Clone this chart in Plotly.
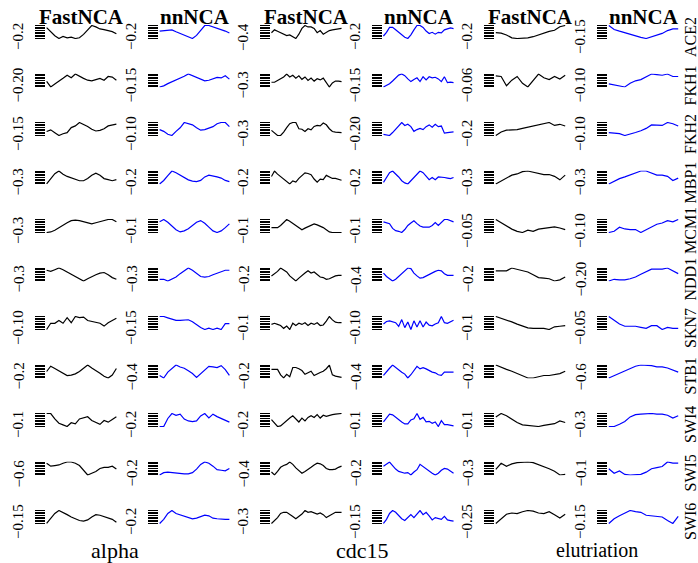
import plotly.graph_objects as go

# ---------------- data (relative expression profiles) ----------------
genes = ["ACE2", "FKH1", "FKH2", "MBP1", "MCM1", "NDD1", "SKN7", "STB1", "SWI4", "SWI5", "SWI6"]
datasets = ["alpha", "cdc15", "elutriation"]
methods = ["FastNCA", "nnNCA"]

# one tick label per panel (row = gene, column = dataset x method)
tick_labels = [
    ["−0.2", "−0.2", "−0.4", "−0.2", "−0.2", "−0.15"],
    ["−0.20", "−0.15", "−0.3", "−0.15", "−0.06", "−0.10"],
    ["−0.15", "−0.10", "−0.3", "−0.20", "−0.2", "−0.10"],
    ["−0.3", "−0.2", "−0.2", "−0.2", "−0.3", "−0.3"],
    ["−0.3", "−0.1", "−0.1", "−0.1", "−0.05", "−0.10"],
    ["−0.3", "−0.3", "−0.2", "−0.4", "−0.2", "−0.20"],
    ["−0.10", "−0.15", "−0.1", "−0.10", "−0.1", "−0.05"],
    ["−0.2", "−0.4", "−0.2", "−0.4", "−0.2", "−0.6"],
    ["−0.1", "−0.2", "−0.2", "−0.1", "−0.1", "−0.3"],
    ["−0.6", "−0.2", "−0.4", "−0.2", "−0.3", "−0.1"],
    ["−0.15", "−0.2", "−0.3", "−0.15", "−0.25", "−0.15"],
]

ace2 = [
    [11, 8, 5, 3, 4.5, 3.5, 4, 3, 3.5, 6, 9, 12.5, 11.5, 10, 9.5, 9, 8, 6.5],
    [7.5, 8, 8, 8.5, 7, 5.5, 4, 3, 1.5, 4, 8, 12, 12, 11, 10, 9, 7.5, 6],
    [7, 9, 8, 7, 6, 5, 5.5, 4, 3, 6, 10, 12, 11, 11, 10, 7, 8.5, 6, 7.5, 8.5, 9, 9.5, 10, 10],
    [3, 6, 10, 10, 8, 6, 4, 2, 1, 4, 8, 11.5, 11.5, 10, 7, 5, 6, 4.5, 6, 5.5, 8, 9, 9.5, 9],
    [6, 5.5, 4, 1.5, 1, 1, 1.5, 2.5, 4, 6, 7, 8, 11, 12],
    [12.5, 9, 7.5, 6, 5, 3.5, 2, 1, 2.5, 4, 5.5, 8, 9.5, 9.5],
]
fkh1 = [
    [7, 2.5, 5, 7, 9.5, 12, 10, 13, 11, 9.5, 8, 7.5, 8.5, 9.5, 8, 11, 10.5, 8],
    [1, 2, 4, 5.5, 7, 9, 10.5, 12.5, 11, 10, 8, 6.5, 7, 8.5, 9.5, 9, 11, 8],
    [5.5, 5.5, 7, 8.5, 10, 12.5, 10, 11.5, 9, 11, 8, 10, 7, 9, 6.5, 8.5, 7.5, 9, 5, 1.5, 5, 6.5, 6.5, 6],
    [0.5, 2, 3.5, 6, 9, 11.5, 12.5, 11, 8, 5.5, 7.5, 9, 5.5, 10, 7, 10, 9, 9.5, 8, 5.5, 10, 4.5, 5, 4.5],
    [10.5, 10, 2.5, 7, 10, 4.5, 1.5, 7, 12, 9, 7.5, 10, 8, 11],
    [4, 3, 2.5, 1.5, 4.5, 6.5, 7.5, 9.5, 12, 11.5, 11, 12, 10, 10],
]
fkh2 = [
    [4.5, 6, 3.5, 1, 2.5, 3.5, 8, 9.5, 12.5, 11, 9, 6.5, 5, 5.5, 7, 9.5, 10.5, 11],
    [6, 4.5, 2, 1, 4.5, 7.5, 12, 11, 10, 7.5, 5.5, 6, 7, 8.5, 11, 12, 12, 8.5],
    [5.5, 3, 1, 1, 4, 8, 11.5, 12.5, 12.5, 7, 6.5, 4.5, 7, 6, 9, 10, 9.5, 12, 10.5, 7, 4.5, 4, 4, 3.5],
    [2, 1.5, 1, 3.5, 6.5, 9.5, 12, 9.5, 10.5, 8.5, 4.5, 6, 7, 6, 8.5, 10, 8, 10.5, 8.5, 9, 3, 3.5, 3.5, 4],
    [1, 4, 5.5, 5.5, 6, 7, 8, 9, 10, 11, 12, 9.5, 10.5, 9],
    [3.5, 3, 2.5, 1, 2, 3.5, 5, 7, 10, 10, 9.5, 12, 11, 9],
]
mbp1 = [
    [0.5, 5, 10, 12.5, 9.5, 7.5, 6, 4.5, 3.5, 3.5, 5.5, 8.5, 10.5, 8.5, 5.5, 4.5, 3.5, 4.5],
    [0.5, 3.5, 7.5, 11.5, 10, 8, 6, 4, 3, 2.5, 3.5, 6.5, 8, 7.5, 6.5, 5.5, 3.5, 2.5],
    [7, 11.5, 9, 7, 5, 3, 1, 3.5, 2.5, 5.5, 8, 10, 9.5, 8.5, 5, 2.5, 5, 4.5, 8, 7, 5.5, 5.5, 5, 4],
    [2, 7, 11, 12.5, 10, 7, 3.5, 1.5, 0.5, 3.5, 7, 10, 12.5, 11, 8, 4.5, 6.5, 4.5, 7, 7, 6.5, 6, 5.5, 6.5],
    [0.5, 3, 6, 8, 9, 11, 11.5, 10.5, 9, 8.5, 8.5, 7, 4, 8],
    [0.5, 3, 5, 6.5, 8, 10, 11.5, 11.5, 10, 8, 8, 7, 3.5, 5.5],
]
mcm1 = [
    [0.5, 1, 2.5, 5, 7.5, 9.5, 11.5, 12, 11.5, 10.5, 9.5, 8.5, 9.5, 10.5, 11.5, 12.5, 12.5, 10.5],
    [10.5, 12.5, 10, 6.5, 3, 1, 2, 4, 7, 10, 11.5, 9, 5.5, 2, 0.5, 2, 5, 8.5],
    [5, 5, 5, 7, 9.5, 12.5, 11, 9, 7, 4.5, 3, 4.5, 6, 7.5, 8.5, 7.5, 6.5, 5, 3, 1, 0.5, 0.5, 0.5, 0.5],
    [10.5, 10, 9, 5, 3, 2.5, 1.5, 4, 7.5, 9.5, 11.5, 9, 7, 6, 6, 6, 7.5, 10, 7.5, 10, 12.5, 12.5, 11.5, 10.5],
    [13, 10, 7.5, 4.5, 2.5, 1.5, 3.5, 2.5, 4.5, 5, 6, 6.5, 5.5, 4],
    [1.5, 2.5, 6, 4.5, 4, 4, 1.5, 4, 6.5, 8.5, 9.5, 11.5, 10.5, 12.5],
]
ndd1 = [
    [10, 9, 10.5, 12, 10.5, 8.5, 6, 4, 2.5, 0.5, 2.5, 4.5, 6, 7.5, 8, 6, 3.5, 2],
    [2, 2, 0.5, 2, 4, 7, 9.5, 12, 10, 7, 4.5, 4, 4.5, 6, 7.5, 9, 10, 10],
    [5, 7, 9, 12, 10.5, 8.5, 5, 3, 0.5, 3, 5.5, 7.5, 9.5, 7.5, 8.5, 6, 4, 3.5, 2, 2.5, 4, 5, 5.5, 5.5],
    [7.5, 4.5, 2.5, 0.5, 2, 4.5, 7.5, 10, 12, 11.5, 7.5, 5, 3, 3.5, 5, 6.5, 8, 9, 10, 9.5, 7, 5.5, 5.5, 5.5],
    [9.5, 9.5, 9.5, 12, 11, 10, 8.5, 6, 3.5, 3, 2.5, 0.5, 1.5, 4],
    [0.5, 2, 1.5, 1.5, 2.5, 4, 6.5, 9, 11, 11, 11, 12, 9.5, 7],
]
skn7 = [
    [0.5, 6, 6, 8.5, 6, 11, 6.5, 12, 11, 11.5, 8.5, 7.5, 6.5, 6, 3.5, 6.5, 8.5, 10.5],
    [11.5, 11.5, 10.5, 9.5, 8.5, 8.5, 9, 9, 7.5, 5, 3, 1.5, 2.5, 1.5, 2.5, 1.5, 6, 6],
    [5, 6, 5, 4, 1.5, 3.5, 0.5, 6, 4, 6, 5, 6.5, 4, 6, 5, 6.5, 4, 4.5, 8, 12, 9, 7, 6.5, 6.5],
    [6, 8, 8.5, 8, 7, 4, 9.5, 3, 7.5, 1.5, 8.5, 3.5, 8.5, 3.5, 7.5, 5, 4.5, 6, 7, 12, 7, 6.5, 7.5, 9],
    [12.5, 11, 9.5, 7.5, 5.5, 3.5, 2, 1.5, 1.5, 1.5, 0.5, 3, 3.5, 4],
    [12.5, 9, 5.5, 3.5, 3.5, 3.5, 2.5, 1.5, 4, 4, 0.5, 2.5, 1.5, 1.5],
]
stb1 = [
    [6, 10.5, 8.5, 6.5, 4.5, 2.5, 3, 4, 6, 8.5, 11.5, 9, 7, 4.5, 2, 0.5, 3, 8.5],
    [3.5, 1.5, 6, 9, 11.5, 10, 9, 7, 5, 2, 5, 8, 10.5, 10, 9.5, 11, 8, 3.5],
    [8.5, 8.5, 8.5, 4, 1.5, 4.5, 2.5, 10, 10, 9, 7.5, 4.5, 6, 7, 3.5, 5, 6, 7, 9, 12, 4, 3, 2.5, 2],
    [3.5, 6.5, 9, 11.5, 9.5, 8, 6, 4.5, 1.5, 4, 7, 10.5, 8.5, 9.5, 8.5, 7, 6, 5.5, 4, 3.5, 6, 6, 6, 6],
    [12, 10, 8.5, 7, 5, 3, 1.5, 1.5, 2.5, 3.5, 3.5, 4, 5, 7],
    [1, 3, 5, 6.5, 8.5, 11, 12, 12, 11.5, 10.5, 10.5, 9.5, 7.5, 6],
]
swi4 = [
    [13, 13, 8, 4, 2.5, 1, 4.5, 3.5, 8, 9, 10, 6.5, 4.5, 3, 6.5, 5, 7.5, 10],
    [1.5, 1.5, 8, 12, 10.5, 11.5, 7.5, 6, 5.5, 6, 10, 12, 8.5, 11.5, 9.5, 8, 6.5, 5],
    [7.5, 4, 1.5, 2, 4.5, 7, 9, 11, 8.5, 5.5, 9, 6.5, 9.5, 11, 9.5, 12, 9, 11.5, 10.5, 11.5, 12, 12.5, 13, 13],
    [6.5, 10, 12.5, 12, 10, 8, 6.5, 5, 5, 8, 9, 13, 8.5, 10, 6.5, 7, 5.5, 6.5, 3, 7.5, 4.5, 4.5, 4, 3.5],
    [10, 13, 11, 8, 5, 3, 2.5, 2, 1.5, 2.5, 3.5, 4, 6.5, 5],
    [1.5, 1.5, 3.5, 6, 10, 12, 12.5, 13, 13, 12.5, 12.5, 11.5, 9, 11],
]
swi5 = [
    [11, 8.5, 9, 9.5, 11, 12, 12, 11, 9, 4.5, 1, 2.5, 4, 6.5, 7.5, 7.5, 8.5, 6],
    [1, 3, 3.5, 3, 2.5, 2, 2, 2, 3, 6, 10, 12, 11, 8.5, 5.5, 5, 4.5, 6.5],
    [3.5, 1, 4, 7.5, 9, 10, 12, 10, 7, 4.5, 2.5, 4, 5.5, 7.5, 9.5, 11, 10.5, 9, 6.5, 5.5, 5.5, 6, 7.5, 8.5],
    [8.5, 10, 12, 9, 6, 4, 3.5, 2.5, 3, 1, 3.5, 5.5, 10, 8, 6, 4, 2.5, 1, 2.5, 5, 6.5, 6, 4.5, 2.5],
    [6, 11, 8.5, 10.5, 11.5, 12, 12, 11.5, 10, 8, 6.5, 4.5, 1.5, 2],
    [6, 2, 4, 1, 0.5, 0.5, 1, 3, 6, 7, 8, 12, 11, 11],
]
swi6 = [
    [0.5, 4.5, 9, 11.5, 10, 8, 6, 4.5, 3, 2.5, 3.5, 6, 8, 7.5, 6.5, 5.5, 4, 1.5],
    [0.5, 4, 9, 11.5, 9, 8, 6.5, 5.5, 4.5, 5, 6, 7.5, 7, 5, 4.5, 4, 4, 4],
    [0.5, 3, 5.5, 9, 10, 10, 8.5, 6.5, 4.5, 6.5, 8.5, 11.5, 10, 10.5, 9.5, 8.5, 9.5, 8, 5.5, 7, 8.5, 10, 10, 10],
    [0.5, 4, 9, 11.5, 10, 7, 4.5, 3, 5.5, 8, 5.5, 9, 11.5, 8, 10, 7, 3.5, 5.5, 4.5, 4, 6.5, 3.5, 3, 2.5],
    [0.5, 4.5, 8, 9, 8.5, 10, 11, 10.5, 9, 8.5, 10, 7.5, 5, 8],
    [0.5, 4.5, 7, 9, 11.5, 10.5, 10, 7.5, 7, 7, 6, 3, 0.5, 6.5],
]

profiles = [ace2, fkh1, fkh2, mbp1, mcm1, ndd1, skn7, stb1, swi4, swi5, swi6]

# ---------------- layout constants ----------------
W, H = 698, 563
line_left = [46, 159, 271, 383, 495, 608]   # px, left edge of each column's plot area
PW = 71                                     # plot width px
ROW0, ROWSTEP, PH = 32, 48.5, 14            # row centre, row step, plot height (px)
colors = ["#000000", "#0000ff"]
SERIF = "Liberation Serif, DejaVu Serif, serif"
N_TICKS = 9

def px_x(x):
    return x / W

def px_y(y):
    return 1 - y / H

fig = go.Figure()
layout = {}
annotations = []

for r, gene in enumerate(genes):
    cy = ROW0 + r * ROWSTEP
    for c in range(6):
        k = r * 6 + c + 1
        ys = profiles[r][c]
        xs = list(range(len(ys)))
        suffix = "" if k == 1 else str(k)
        fig.add_trace(go.Scatter(
            x=xs, y=ys, mode="lines",
            line=dict(color=colors[c % 2], width=1.2),
            xaxis="x" + suffix, yaxis="y" + suffix,
            hoverinfo="skip", showlegend=False,
        ))
        lo, hi = min(ys), max(ys)
        pad = (hi - lo) * 0.04
        step = (hi - lo) / (N_TICKS - 1)
        layout["xaxis" + suffix] = dict(
            domain=[px_x(line_left[c]), px_x(line_left[c] + PW)],
            range=[-0.15, len(ys) - 0.85],
            visible=False, fixedrange=True,
            anchor="y" + suffix,
        )
        layout["yaxis" + suffix] = dict(
            domain=[px_y(cy + PH / 2), px_y(cy - PH / 2)],
            range=[lo - pad, hi + pad],
            showgrid=False, zeroline=False, showline=False,
            ticks="outside", ticklen=10, tickwidth=1, tickcolor="black",
            tickvals=[lo + i * step for i in range(N_TICKS)],
            showticklabels=False, fixedrange=True,
            anchor="x" + suffix,
        )
        annotations.append(dict(
            text=tick_labels[r][c], textangle=-90,
            x=px_x(line_left[c] - 28), y=px_y(cy + 5),
            xref="paper", yref="paper", xanchor="center", yanchor="middle",
            showarrow=False, font=dict(family=SERIF, size=15, color="black"),
        ))
    annotations.append(dict(
        text=gene, textangle=-90,
        x=px_x(690), y=px_y(cy + 5),
        xref="paper", yref="paper", xanchor="center", yanchor="middle",
        showarrow=False, font=dict(family=SERIF, size=16, color="black"),
    ))

# column titles
for c in range(6):
    annotations.append(dict(
        text="<b>" + methods[c % 2] + "</b>",
        x=px_x(line_left[c] + PW / 2), y=px_y(17),
        xref="paper", yref="paper", xanchor="center", yanchor="middle",
        showarrow=False, font=dict(family=SERIF, size=21, color="black"),
    ))

# dataset labels
ds_x = [115, 362, 597]
ds_size = [22, 22, 20]
for i, name in enumerate(datasets):
    annotations.append(dict(
        text=name, x=px_x(ds_x[i]), y=px_y(550),
        xref="paper", yref="paper", xanchor="center", yanchor="middle",
        showarrow=False, font=dict(family=SERIF, size=ds_size[i], color="black"),
    ))

layout.update(dict(
    width=W, height=H, autosize=False,
    margin=dict(l=0, r=0, t=0, b=0),
    paper_bgcolor="white", plot_bgcolor="white",
    showlegend=False, annotations=annotations,
))
fig.update_layout(**layout)
fig.write_html(
    "out.html",
    config={"displayModeBar": False},
    post_script="document.body.style.margin='0px';document.body.style.overflow='hidden';",
)
